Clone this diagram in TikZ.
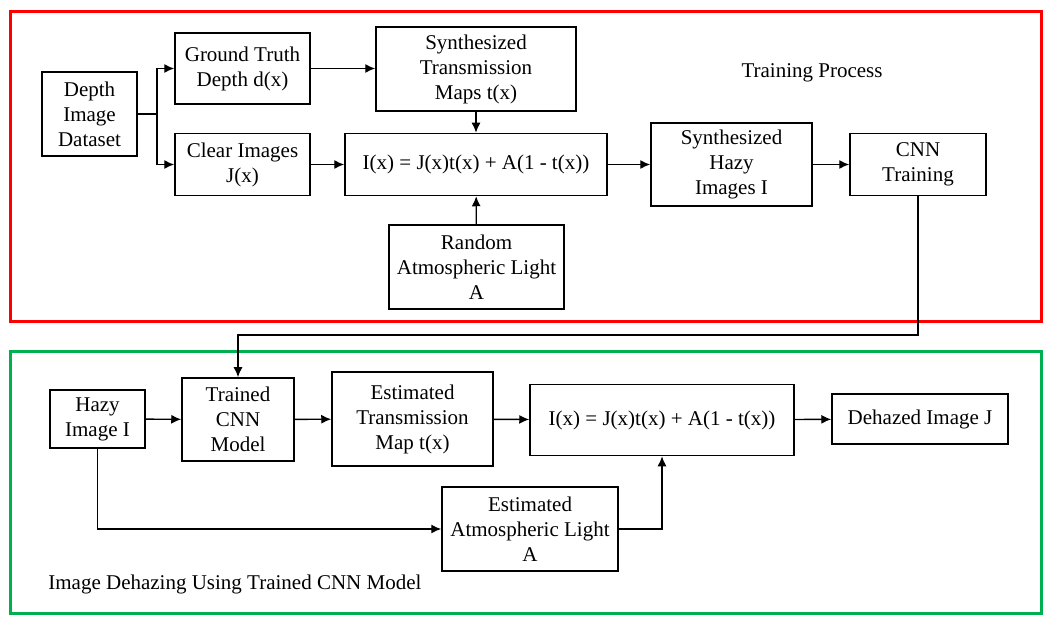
\documentclass[tikz,border=0pt]{standalone}
\usepackage{fontspec}
\setmainfont{Liberation Serif}
\usetikzlibrary{arrows.meta}
\tikzset{>={Latex[length=5pt,width=4.5pt]}}
\colorlet{framered}{red}
\definecolor{framegreen}{RGB}{0,176,80}
\tikzset{box/.style={draw,line width=0.75pt,align=center,inner sep=0pt,font=\rmfamily\fontsize{10.5}{12.5}\selectfont}}

\begin{document}
\begin{tikzpicture}[x=0.5pt,y=-0.5pt,line width=0.7pt]
  \useasboundingbox (0,0) rectangle (1053,624);
  \draw[framered,line width=1.5pt] (10,12) rectangle (1041,322);
  \draw[framegreen,line width=1.5pt] (10,352) rectangle (1041,613);
  % training process
  \node[box,minimum width=47.5pt,minimum height=42pt] (depth) at (89.5,114) {Depth\\Image\\Dataset};
  \node[box,minimum width=67.5pt,minimum height=35.5pt] (truth) at (242.5,68.5) {Ground Truth\\Depth d(x)};
  \node[box,minimum width=67.5pt,minimum height=31pt] (clear) at (242.5,164.5) {Clear Images\\J(x)};
  \node[box,minimum width=100pt,minimum height=42pt] (transmap) at (476,69) {Synthesized\\Transmission\\Maps t(x)};
  \node[box,minimum width=131pt,minimum height=31pt] (model1) at (476,164.5) {I(x) = J(x)t(x) + A(1 - t(x))};
  \node[box,minimum width=87.5pt,minimum height=42pt] (light) at (476.5,267) {Random\\Atmospheric Light\\A};
  \node[box,minimum width=80.5pt,minimum height=41.5pt] (hazyset) at (731.5,164.5) {Synthesized\\Hazy\\Images I};
  \node[box,minimum width=68pt,minimum height=31pt] (training) at (918,164.5) {CNN\\Training};
  \node[font=\rmfamily\fontsize{10.5}{12.5}\selectfont] (toplabel) at (812,73) {Training Process};
  \coordinate (split) at (157,114);
  \draw (depth.east) -- (split);
  \draw[->] (split) |- (truth.west);
  \draw[->] (split) |- (clear.west);
  \draw[->] (truth.east) -- (truth.east -| transmap.west);
  \draw[->] (transmap) -- (model1);
  \draw[->] (clear) -- (model1);
  \draw[->] (light) -- (model1);
  \draw[->] (model1) -- (hazyset);
  \draw[->] (hazyset) -- (training);
  % dehazing
  \node[box,minimum width=47.5pt,minimum height=29pt] (hazy) at (97.5,419) {Hazy\\Image I};
  \node[box,minimum width=56pt,minimum height=41.5pt] (trained) at (238,419.5) {Trained\\CNN\\Model};
  \node[box,minimum width=80.5pt,minimum height=47pt] (estmap) at (412.5,419) {Estimated\\Transmission\\Map t(x)};
  \node[box,minimum width=132pt,minimum height=35.5pt] (model2) at (662,420) {I(x) = J(x)t(x) + A(1 - t(x))};
  \node[box,minimum width=88pt,minimum height=25pt] (dehazed) at (920,419) {Dehazed Image J};
  \node[box,minimum width=88pt,minimum height=42pt] (estlight) at (530,529) {Estimated\\Atmospheric Light\\A};
  \node[anchor=west,font=\rmfamily\fontsize{10.5}{12.5}\selectfont] (botlabel) at (41,584) {Image Dehazing Using Trained CNN Model};
  \coordinate (turn) at (918,335);
  \draw[->] (training) -- (turn) -| (trained);
  \draw[->] (hazy) -- (trained);
  \draw[->] (trained) -- (estmap);
  \draw[->] (estmap) -- (model2);
  \draw[->] (model2) -- (dehazed);
  \draw[->] (hazy) |- (estlight);
  \draw[->] (estlight) -| (model2);
\end{tikzpicture}
\end{document}
